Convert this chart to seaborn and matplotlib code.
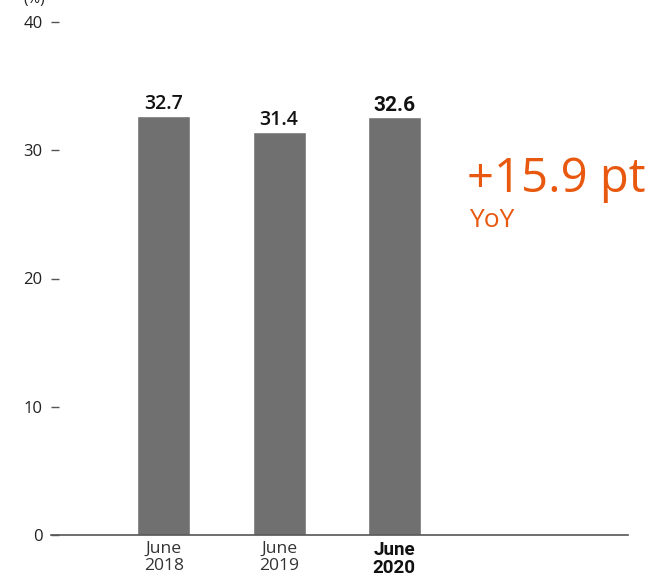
import matplotlib
matplotlib.use("Agg")
import matplotlib.pyplot as plt
import seaborn as sns
import pandas as pd

periods = ["June\n2018", "June\n2019", "June\n2020"]
ratios = [32.7, 31.4, 32.6]
value_labels = ["32.7", "31.4", "32.6"]
yticks = [0, 10, 20, 30, 40]
change_text = "+15.9 pt"
change_note = "YoY"
unit_label = "(%)"

BAR = "#707070"
ORANGE = "#E8590F"
TEXT = "#222222"
BOLD_FAMILY = ["Roboto", "DejaVu Sans"]

sns.set_theme(style="white")
plt.rcParams["font.family"] = ["Open Sans", "DejaVu Sans"]
plt.rcParams["font.stretch"] = "normal"

W, H = 656, 581
fig = plt.figure(figsize=(W / 100, H / 100), dpi=100)
ax = fig.add_axes([51 / W, (H - 535) / H, (628 - 51) / W, (535 - 22) / H])

df = pd.DataFrame({"period": periods, "ratio": ratios})
sns.barplot(data=df, x="period", y="ratio", color=BAR, saturation=1,
            width=0.46, ax=ax, zorder=2)

ax.set_xlim(-0.98, 4.03)
ax.set_ylim(0, 40)
ax.set_yticks(yticks)
ax.set_yticklabels([str(t) for t in yticks], fontsize=12, color=TEXT)
ax.set_xlabel("")
ax.set_ylabel("")

for s in ["top", "right", "left"]:
    ax.spines[s].set_visible(False)
ax.spines["bottom"].set_color("#555555")
ax.spines["bottom"].set_linewidth(1.2)
ax.spines["bottom"].set_zorder(3)

ax.tick_params(axis="y", direction="in", length=6, width=1, color="#555555",
               pad=6, left=True)
ax.tick_params(axis="x", length=0, pad=4)

for i, lab in enumerate(ax.get_xticklabels()):
    lab.set_fontsize(12.6)
    lab.set_color("#333333")
    lab.set_linespacing(1.1)
    if i == len(periods) - 1:
        lab.set_family(BOLD_FAMILY)
        lab.set_fontsize(13.5)
        lab.set_linespacing(1.05)
        lab.set_fontweight("bold")
        lab.set_color("#111111")

container = ax.containers[0]
texts = ax.bar_label(container, labels=value_labels, padding=1.5,
                     fontsize=14, fontweight="semibold", color="#111111")
texts[-1].set_family(BOLD_FAMILY)
texts[-1].set_fontsize(15)
texts[-1].set_fontweight("bold")

ax.text(-0.03, 1.03, unit_label, transform=ax.transAxes, ha="center",
        va="bottom", fontsize=11, color=TEXT, clip_on=False)

fig.text(467 / W, 1 - 192 / H, change_text, fontsize=34, color=ORANGE,
         ha="left", va="baseline")
fig.text(469 / W, 1 - 227 / H, change_note, fontsize=19, color=ORANGE,
         ha="left", va="baseline")

fig.savefig("out.png", dpi=100)
